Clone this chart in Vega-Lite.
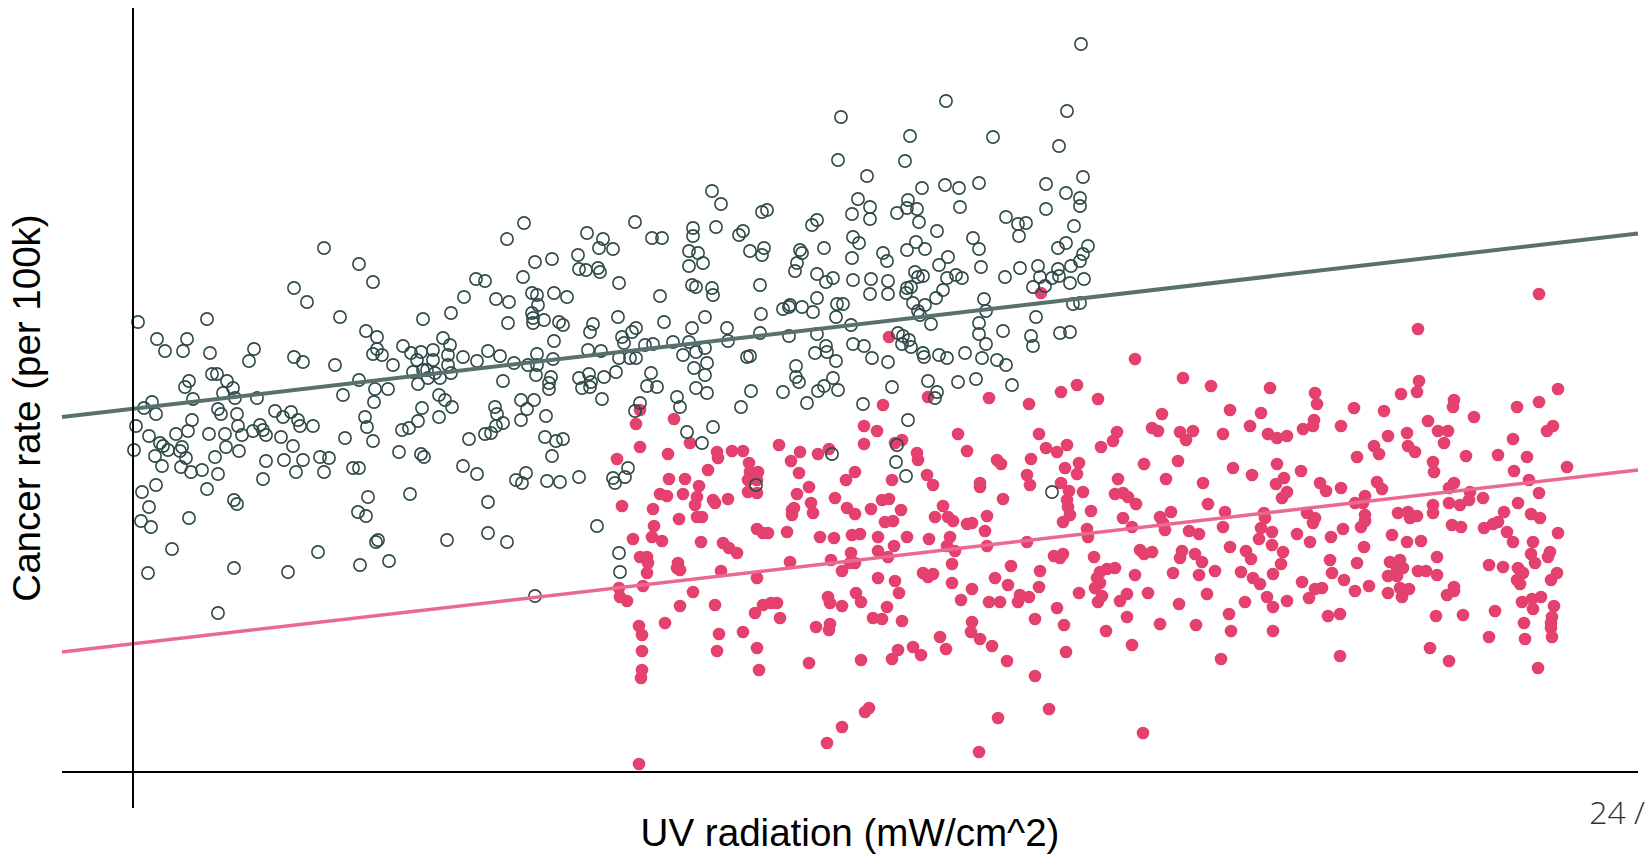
{
  "$schema": "https://vega.github.io/schema/vega-lite/v6.json",
  "width": 1576,
  "height": 800,
  "autosize": {"type": "none"},
  "padding": {"left": 62, "top": 8, "right": 10, "bottom": 47},
  "background": "white",
  "config": {
    "view": {"stroke": null},
    "font": "Liberation Sans"
  },
  "datasets": {
    "low": [
      {"uv":19.1,"rate":52.4},{"uv":22.6,"rate":50.8},{"uv":24.0,"rate":49.0},{"uv":16.1,"rate":48.4},{"uv":17.4,"rate":47.0},{"uv":20.7,"rate":45.5},{"uv":0.5,"rate":45.0},{"uv":7.4,"rate":45.3},{"uv":29.0,"rate":45.3},{"uv":2.4,"rate":43.3},{"uv":5.4,"rate":43.3},{"uv":3.2,"rate":42.1},{"uv":5.0,"rate":42.1},{"uv":7.7,"rate":41.9},{"uv":12.1,"rate":42.3},{"uv":11.6,"rate":41.1},{"uv":16.1,"rate":41.5},{"uv":17.0,"rate":41.0},{"uv":20.2,"rate":40.7},{"uv":23.3,"rate":44.1},{"uv":24.4,"rate":43.5},{"uv":24.4,"rate":42.3},{"uv":24.0,"rate":41.8},{"uv":24.9,"rate":41.7},{"uv":26.0,"rate":40.7},{"uv":27.0,"rate":42.6},{"uv":27.8,"rate":41.9},{"uv":28.8,"rate":42.0},{"uv":28.4,"rate":41.2},{"uv":7.9,"rate":39.8},{"uv":8.4,"rate":39.8},{"uv":5.6,"rate":39.1},{"uv":5.2,"rate":38.5},{"uv":9.4,"rate":39.1},{"uv":10.0,"rate":38.4},{"uv":9.0,"rate":37.9},{"uv":10.2,"rate":37.4},{"uv":6.0,"rate":37.3},{"uv":12.4,"rate":37.4},{"uv":22.6,"rate":39.2},{"uv":24.2,"rate":38.3},{"uv":25.5,"rate":38.3},{"uv":21.0,"rate":37.7},{"uv":24.1,"rate":37.0},{"uv":28.0,"rate":40.0},{"uv":29.0,"rate":40.2},{"uv":28.5,"rate":38.8},{"uv":1.1,"rate":36.4},{"uv":1.9,"rate":37.0},{"uv":2.3,"rate":35.8},{"uv":8.5,"rate":36.3},{"uv":8.8,"rate":35.8},{"uv":10.4,"rate":35.8},{"uv":14.2,"rate":36.1},{"uv":15.0,"rate":35.5},{"uv":15.8,"rate":36.0},{"uv":16.5,"rate":35.2},{"uv":16.7,"rate":34.6},{"uv":18.0,"rate":34.6},{"uv":5.9,"rate":35.2},{"uv":5.5,"rate":34.1},{"uv":4.3,"rate":33.8},{"uv":1.6,"rate":33.6},{"uv":0.3,"rate":34.6},{"uv":7.6,"rate":33.8},{"uv":9.2,"rate":33.8},{"uv":10.5,"rate":34.6},{"uv":10.9,"rate":33.7},{"uv":12.7,"rate":34.7},{"uv":12.0,"rate":34.1},{"uv":13.0,"rate":34.2},{"uv":13.3,"rate":33.7},{"uv":14.8,"rate":33.5},{"uv":16.0,"rate":32.6},{"uv":9.3,"rate":32.5},{"uv":10.6,"rate":32.1},{"uv":8.2,"rate":31.5},{"uv":3.0,"rate":32.6},{"uv":3.5,"rate":32.2},{"uv":2.7,"rate":32.9},{"uv":4.9,"rate":32.5},{"uv":4.7,"rate":32.1},{"uv":2.2,"rate":31.6},{"uv":5.3,"rate":31.4},{"uv":2.9,"rate":30.6},{"uv":4.8,"rate":30.5},{"uv":5.8,"rate":30.0},{"uv":6.9,"rate":30.2},{"uv":8.5,"rate":29.8},{"uv":0.1,"rate":32.2},{"uv":13.3,"rate":31.1},{"uv":15.1,"rate":31.2},{"uv":17.0,"rate":31.2},{"uv":16.3,"rate":30.0},{"uv":18.7,"rate":31.5},{"uv":19.6,"rate":31.4},{"uv":19.1,"rate":30.0},{"uv":13.0,"rate":29.3},{"uv":21.2,"rate":33.4},{"uv":23.2,"rate":35.5},{"uv":23.4,"rate":34.5},{"uv":24.0,"rate":33.1},{"uv":26.6,"rate":32.0},{"uv":26.9,"rate":34.2},{"uv":27.6,"rate":34.4},{"uv":28.5,"rate":35.1},{"uv":28.9,"rate":36.4},{"uv":28.8,"rate":31.8},{"uv":29.1,"rate":31.5},{"uv":22.0,"rate":30.4},{"uv":22.6,"rate":30.4},{"uv":2.3,"rate":28.7},{"uv":0.9,"rate":28.0},{"uv":7.4,"rate":28.3},{"uv":10.1,"rate":27.2},{"uv":10.4,"rate":26.8},{"uv":1.6,"rate":26.5},{"uv":0.8,"rate":25.1},{"uv":1.8,"rate":24.5},{"uv":5.6,"rate":25.4},{"uv":23.5,"rate":27.5},{"uv":27.7,"rate":27.8},{"uv":22.5,"rate":26.0},{"uv":23.3,"rate":25.6},{"uv":24.5,"rate":23.2},{"uv":24.3,"rate":23.0},{"uv":3.9,"rate":22.3},{"uv":18.5,"rate":22.0},{"uv":1.5,"rate":19.9},{"uv":10.1,"rate":20.4},{"uv":15.5,"rate":20.0},{"uv":22.7,"rate":20.7},{"uv":25.6,"rate":21.1},{"uv":8.5,"rate":15.9},
      {"uv":56.0,"rate":54.4},{"uv":39.1,"rate":54.9},{"uv":37.4,"rate":53.3},{"uv":45.4,"rate":53.9},{"uv":47.0,"rate":53.3},{"uv":46.6,"rate":52.4},{"uv":48.0,"rate":52.3},{"uv":50.2,"rate":55.0},{"uv":51.9,"rate":53.4},{"uv":52.9,"rate":53.4},{"uv":56.0,"rate":53.6},{"uv":55.6,"rate":52.1},{"uv":56.5,"rate":51.9},{"uv":55.6,"rate":50.6},{"uv":55.9,"rate":48.7},{"uv":56.3,"rate":48.5},{"uv":44.5,"rate":51.7},{"uv":44.6,"rate":50.3},{"uv":45.3,"rate":50.2},{"uv":46.5,"rate":50.4},{"uv":46.7,"rate":50.0},{"uv":48.6,"rate":48.9},{"uv":52.7,"rate":47.6},{"uv":41.9,"rate":51.3},{"uv":40.2,"rate":51.0},{"uv":39.0,"rate":49.5},{"uv":34.3,"rate":49.3},{"uv":35.2,"rate":49.1},{"uv":33.1,"rate":47.5},{"uv":36.3,"rate":47.3},{"uv":37.6,"rate":47.0},{"uv":39.9,"rate":47.9},{"uv":40.4,"rate":47.7},{"uv":42.1,"rate":47.9},{"uv":43.4,"rate":47.5},{"uv":40.5,"rate":46.7},{"uv":31.8,"rate":45.9},{"uv":37.5,"rate":44.9},{"uv":39.9,"rate":45.9},{"uv":40.0,"rate":45.4},{"uv":40.0,"rate":44.9},{"uv":41.1,"rate":45.2},{"uv":42.6,"rate":45.0},{"uv":43.0,"rate":44.7},{"uv":46.0,"rate":44.8},{"uv":45.7,"rate":44.0},{"uv":48.5,"rate":45.5},{"uv":50.3,"rate":44.4},{"uv":49.9,"rate":44.0},{"uv":48.9,"rate":43.5},{"uv":49.1,"rate":42.9},{"uv":53.1,"rate":45.0},{"uv":55.9,"rate":44.4},{"uv":42.1,"rate":43.1},{"uv":31.0,"rate":43.4},{"uv":31.7,"rate":42.7},{"uv":30.0,"rate":42.2},{"uv":33.0,"rate":41.5},{"uv":31.5,"rate":41.7},{"uv":30.0,"rate":41.2},{"uv":31.5,"rate":40.7},{"uv":31.8,"rate":39.9},{"uv":29.4,"rate":40.2},{"uv":30.2,"rate":39.9},{"uv":30.7,"rate":39.4},{"uv":29.5,"rate":39.4},{"uv":34.4,"rate":41.1},{"uv":35.5,"rate":42.1},{"uv":36.7,"rate":41.6},{"uv":38.1,"rate":40.9},{"uv":39.5,"rate":40.7},{"uv":40.4,"rate":41.8},{"uv":40.4,"rate":40.7},{"uv":42.0,"rate":41.3},{"uv":40.3,"rate":39.7},{"uv":41.8,"rate":39.5},{"uv":41.6,"rate":38.9},{"uv":41.6,"rate":38.3},{"uv":37.0,"rate":39.1},{"uv":45.5,"rate":42.2},{"uv":46.8,"rate":42.1},{"uv":48.6,"rate":41.4},{"uv":49.7,"rate":41.4},{"uv":50.3,"rate":41.4},{"uv":51.2,"rate":42.7},{"uv":52.0,"rate":42.8},{"uv":54.0,"rate":43.0},{"uv":55.6,"rate":43.0},{"uv":55.0,"rate":41.7},{"uv":56.3,"rate":42.0},{"uv":56.1,"rate":40.4},{"uv":56.3,"rate":38.4},{"uv":44.6,"rate":39.4},{"uv":45.6,"rate":39.8},{"uv":45.8,"rate":39.0},{"uv":44.9,"rate":38.4},{"uv":45.7,"rate":38.5},{"uv":47.1,"rate":39.5},{"uv":48.3,"rate":40.0},{"uv":46.9,"rate":37.3},{"uv":51.8,"rate":39.9},{"uv":51.4,"rate":38.6},{"uv":52.4,"rate":38.5},{"uv":54.4,"rate":37.5},{"uv":30.6,"rate":37.7},{"uv":31.2,"rate":37.2},{"uv":31.9,"rate":36.5},{"uv":30.6,"rate":35.5},{"uv":36.2,"rate":36.5},{"uv":36.4,"rate":35.8},{"uv":37.0,"rate":34.9},{"uv":36.3,"rate":34.6},{"uv":35.8,"rate":33.9},{"uv":35.2,"rate":33.8},{"uv":33.6,"rate":33.3},{"uv":38.8,"rate":37.2},{"uv":40.1,"rate":37.2},{"uv":39.4,"rate":36.3},{"uv":38.8,"rate":35.2},{"uv":41.3,"rate":35.6},{"uv":41.2,"rate":33.5},{"uv":42.3,"rate":33.1},{"uv":43.0,"rate":33.3},{"uv":41.9,"rate":31.6},{"uv":33.0,"rate":30.6},{"uv":34.4,"rate":29.8},{"uv":38.3,"rate":29.2},{"uv":39.3,"rate":29.9},{"uv":38.9,"rate":28.9},{"uv":41.4,"rate":29.1},{"uv":42.7,"rate":29.0},{"uv":44.6,"rate":29.5},{"uv":35.5,"rate":27.0},{"uv":31.4,"rate":23.2},{"uv":35.5,"rate":23.9},{"uv":37.4,"rate":23.0},{"uv":46.4,"rate":24.6},{"uv":40.2,"rate":17.6},
      {"uv":94.8,"rate":72.8},{"uv":81.3,"rate":67.1},{"uv":93.4,"rate":66.1},{"uv":70.8,"rate":65.5},{"uv":77.7,"rate":63.6},{"uv":86.0,"rate":63.5},{"uv":92.6,"rate":62.6},{"uv":70.5,"rate":61.2},{"uv":77.2,"rate":61.1},{"uv":73.4,"rate":59.6},{"uv":95.0,"rate":59.5},{"uv":57.9,"rate":58.1},{"uv":58.8,"rate":56.8},{"uv":78.9,"rate":58.4},{"uv":81.2,"rate":58.7},{"uv":82.6,"rate":58.4},{"uv":84.6,"rate":58.9},{"uv":91.3,"rate":58.8},{"uv":93.3,"rate":57.9},{"uv":94.7,"rate":57.4},{"uv":94.7,"rate":56.6},{"uv":72.5,"rate":57.3},{"uv":73.7,"rate":56.5},{"uv":73.7,"rate":55.3},{"uv":71.9,"rate":55.8},{"uv":77.5,"rate":57.2},{"uv":77.4,"rate":56.4},{"uv":78.4,"rate":56.3},{"uv":76.4,"rate":55.9},{"uv":78.6,"rate":55.0},{"uv":82.7,"rate":56.5},{"uv":91.3,"rate":56.3},{"uv":62.9,"rate":56.0},{"uv":63.4,"rate":56.2},{"uv":58.3,"rate":54.5},{"uv":67.9,"rate":54.7},{"uv":68.4,"rate":55.2},{"uv":60.6,"rate":53.7},{"uv":61.0,"rate":54.1},{"uv":80.4,"rate":54.1},{"uv":87.3,"rate":55.5},{"uv":88.5,"rate":54.8},{"uv":89.3,"rate":54.9},{"uv":88.6,"rate":53.6},{"uv":94.1,"rate":54.6},{"uv":84.0,"rate":53.4},{"uv":84.6,"rate":52.3},{"uv":72.0,"rate":53.5},{"uv":72.6,"rate":52.9},{"uv":78.3,"rate":53.0},{"uv":77.4,"rate":52.2},{"uv":79.2,"rate":52.3},{"uv":61.7,"rate":52.1},{"uv":63.1,"rate":52.4},{"uv":62.9,"rate":51.7},{"uv":66.7,"rate":52.2},{"uv":66.9,"rate":51.9},{"uv":69.1,"rate":52.4},{"uv":57.0,"rate":50.9},{"uv":75.0,"rate":51.9},{"uv":75.4,"rate":51.1},{"uv":71.9,"rate":51.4},{"uv":66.4,"rate":50.9},{"uv":66.2,"rate":50.1},{"uv":92.5,"rate":52.4},{"uv":93.3,"rate":52.9},{"uv":95.5,"rate":52.6},{"uv":95.0,"rate":51.8},{"uv":94.7,"rate":51.1},{"uv":81.5,"rate":51.5},{"uv":80.6,"rate":50.7},{"uv":84.8,"rate":50.5},{"uv":88.7,"rate":50.4},{"uv":90.5,"rate":50.6},{"uv":92.5,"rate":50.3},{"uv":93.8,"rate":50.6},{"uv":90.7,"rate":49.5},{"uv":91.9,"rate":49.4},{"uv":93.7,"rate":48.9},{"uv":95.1,"rate":49.3},{"uv":92.6,"rate":49.6},{"uv":91.2,"rate":48.6},{"uv":90.0,"rate":48.5},{"uv":87.2,"rate":49.5},{"uv":57.9,"rate":48.4},{"uv":58.0,"rate":47.7},{"uv":57.2,"rate":45.5},{"uv":57.2,"rate":42.4},{"uv":57.4,"rate":40.9},{"uv":57.2,"rate":39.7},{"uv":57.4,"rate":37.9},{"uv":62.7,"rate":48.7},{"uv":68.4,"rate":49.8},{"uv":69.3,"rate":49.0},{"uv":70.0,"rate":49.4},{"uv":72.0,"rate":49.2},{"uv":73.8,"rate":49.3},{"uv":75.5,"rate":49.1},{"uv":73.7,"rate":47.8},{"uv":75.5,"rate":47.8},{"uv":78.2,"rate":50.0},{"uv":79.0,"rate":49.6},{"uv":78.5,"rate":49.5},{"uv":81.4,"rate":49.4},{"uv":82.3,"rate":49.7},{"uv":82.9,"rate":49.4},{"uv":77.4,"rate":48.4},{"uv":77.8,"rate":48.5},{"uv":77.3,"rate":47.9},{"uv":81.0,"rate":48.2},{"uv":78.0,"rate":46.9},{"uv":80.3,"rate":47.4},{"uv":79.2,"rate":46.7},{"uv":78.5,"rate":46.1},{"uv":78.7,"rate":45.7},{"uv":79.8,"rate":44.8},{"uv":85.1,"rate":47.3},{"uv":85.3,"rate":46.1},{"uv":84.6,"rate":44.9},{"uv":84.6,"rate":43.8},{"uv":85.3,"rate":42.8},{"uv":65.6,"rate":46.5},{"uv":65.0,"rate":46.3},{"uv":65.7,"rate":46.7},{"uv":66.9,"rate":46.5},{"uv":68.4,"rate":47.4},{"uv":68.0,"rate":46.0},{"uv":70.4,"rate":46.8},{"uv":71.0,"rate":46.8},{"uv":70.3,"rate":45.5},{"uv":71.8,"rate":44.7},{"uv":62.8,"rate":45.8},{"uv":62.7,"rate":43.9},{"uv":59.4,"rate":44.4},{"uv":59.5,"rate":43.1},{"uv":65.6,"rate":43.6},{"uv":68.4,"rate":43.8},{"uv":61.4,"rate":41.5},{"uv":61.7,"rate":41.6},{"uv":68.2,"rate":41.9},{"uv":69.3,"rate":42.6},{"uv":69.4,"rate":42.0},{"uv":70.3,"rate":41.1},{"uv":72.0,"rate":42.8},{"uv":73.1,"rate":42.6},{"uv":73.9,"rate":41.4},{"uv":75.5,"rate":41.0},{"uv":76.5,"rate":43.9},{"uv":77.0,"rate":43.6},{"uv":77.6,"rate":43.2},{"uv":76.9,"rate":42.8},{"uv":77.8,"rate":42.5},{"uv":79.0,"rate":41.9},{"uv":79.1,"rate":41.5},{"uv":80.6,"rate":41.7},{"uv":81.4,"rate":41.4},{"uv":83.2,"rate":41.9},{"uv":84.9,"rate":41.4},{"uv":86.4,"rate":41.2},{"uv":66.3,"rate":40.6},{"uv":66.3,"rate":39.5},{"uv":66.6,"rate":39.0},{"uv":61.8,"rate":38.1},{"uv":65.0,"rate":38.0},{"uv":68.5,"rate":38.1},{"uv":69.1,"rate":38.6},{"uv":70.0,"rate":39.4},{"uv":70.5,"rate":38.2},{"uv":75.9,"rate":38.5},{"uv":79.5,"rate":39.1},{"uv":80.4,"rate":38.0},{"uv":82.5,"rate":39.0},{"uv":84.3,"rate":39.3},{"uv":80.2,"rate":37.4},
      {"uv":50.7,"rate":36.9},{"uv":50.2,"rate":36.1},{"uv":54.7,"rate":36.5},{"uv":60.8,"rate":36.5},{"uv":67.4,"rate":36.9},{"uv":73.0,"rate":36.8},{"uv":55.4,"rate":34.0},{"uv":58.0,"rate":34.5},{"uv":56.9,"rate":32.9},{"uv":77.5,"rate":35.2},{"uv":69.9,"rate":31.8},{"uv":76.4,"rate":32.7},{"uv":76.3,"rate":31.0},{"uv":77.3,"rate":29.6},{"uv":49.5,"rate":30.4},{"uv":48.0,"rate":29.4},{"uv":48.2,"rate":28.9},{"uv":49.2,"rate":29.5},{"uv":48.6,"rate":21.9},{"uv":48.7,"rate":20.0},{"uv":62.3,"rate":28.7},
      {"uv":90.3,"rate":45.5},{"uv":89.8,"rate":43.6},{"uv":90.0,"rate":42.6},{"uv":92.7,"rate":43.9},{"uv":93.7,"rate":44.0},{"uv":94.0,"rate":46.8},{"uv":94.7,"rate":46.9},{"uv":87.9,"rate":38.7},{"uv":91.9,"rate":28.0},{"uv":87.0,"rate":44.1},{"uv":87.3,"rate":40.7}
    ],
    "high": [
      {"uv":75.6,"rate":43.5},{"uv":79.5,"rate":37.5},{"uv":85.6,"rate":37.4},{"uv":90.8,"rate":47.9},
      {"uv":75.0,"rate":36.7},{"uv":50.7,"rate":36.2},{"uv":50.3,"rate":34.8},{"uv":54.1,"rate":35.3},{"uv":50.7,"rate":32.5},{"uv":73.1,"rate":34.6},{"uv":74.4,"rate":34.1},{"uv":73.1,"rate":32.8},{"uv":82.5,"rate":33.8},{"uv":83.4,"rate":32.1},{"uv":76.2,"rate":32.9},{"uv":76.9,"rate":33.2},{"uv":55.7,"rate":32.9},{"uv":48.4,"rate":31.3},{"uv":53.5,"rate":31.8},{"uv":58.4,"rate":32.0},{"uv":58.5,"rate":31.4},{"uv":59.9,"rate":32.1},{"uv":61.0,"rate":32.1},{"uv":64.6,"rate":32.7},{"uv":66.7,"rate":32.0},{"uv":65.8,"rate":31.1},{"uv":68.5,"rate":31.8},{"uv":69.6,"rate":32.3},{"uv":61.6,"rate":30.9},{"uv":61.7,"rate":30.0},{"uv":62.5,"rate":30.0},{"uv":61.5,"rate":29.2},{"uv":62.4,"rate":29.2},{"uv":61.5,"rate":28.0},{"uv":62.4,"rate":27.9},{"uv":57.5,"rate":30.2},{"uv":53.6,"rate":29.3},{"uv":55.2,"rate":29.3},{"uv":56.6,"rate":28.6},{"uv":55.0,"rate":27.8},{"uv":56.4,"rate":27.5},{"uv":56.2,"rate":26.7},{"uv":56.4,"rate":25.5},{"uv":56.9,"rate":25.5},{"uv":52.7,"rate":27.8},{"uv":53.4,"rate":27.6},{"uv":54.6,"rate":25.3},{"uv":52.0,"rate":26.3},{"uv":52.1,"rate":24.6},{"uv":51.9,"rate":23.5},{"uv":52.9,"rate":23.1},{"uv":50.0,"rate":23.3},{"uv":48.9,"rate":26.6},{"uv":58.0,"rate":27.2},{"uv":58.2,"rate":26.9},{"uv":59.5,"rate":27.3},{"uv":66.6,"rate":29.9},{"uv":67.6,"rate":28.5},{"uv":66.4,"rate":27.8},{"uv":65.9,"rate":26.2},{"uv":66.1,"rate":26.4},{"uv":65.9,"rate":25.7},{"uv":67.8,"rate":26.9},{"uv":68.0,"rate":25.9},{"uv":70.2,"rate":27.4},{"uv":71.3,"rate":29.2},{"uv":72.2,"rate":30.0},{"uv":71.4,"rate":26.4},{"uv":72.2,"rate":25.8},{"uv":73.8,"rate":26.3},{"uv":74.9,"rate":27.2},{"uv":75.6,"rate":27.3},{"uv":75.9,"rate":29.2},{"uv":76.8,"rate":26.2},{"uv":75.2,"rate":25.0},{"uv":76.0,"rate":25.1},{"uv":78.4,"rate":31.9},{"uv":78.5,"rate":31.2},{"uv":79.4,"rate":29.7},{"uv":80.0,"rate":28.7},{"uv":84.7,"rate":28.9},{"uv":84.7,"rate":28.5},{"uv":86.4,"rate":31.2},{"uv":86.8,"rate":30.8},{"uv":87.0,"rate":27.3},{"uv":81.0,"rate":26.6},{"uv":80.2,"rate":25.5},{"uv":81.5,"rate":25.5},{"uv":82.0,"rate":25.1},{"uv":83.4,"rate":24.8},{"uv":83.9,"rate":24.9},{"uv":85.4,"rate":25.6},{"uv":85.2,"rate":24.1},{"uv":85.4,"rate":22.6},{"uv":81.7,"rate":23.5},{"uv":81.4,"rate":22.6},{"uv":82.2,"rate":22.1},{"uv":81.9,"rate":20.8},{"uv":79.6,"rate":23.3},{"uv":77.4,"rate":23.5},{"uv":74.5,"rate":23.5},{"uv":76.1,"rate":22.6},{"uv":74.5,"rate":22.1},{"uv":75.5,"rate":21.5},{"uv":71.9,"rate":23.7},{"uv":72.7,"rate":23.8},{"uv":71.8,"rate":21.9},{"uv":71.7,"rate":20.9},{"uv":72.2,"rate":20.9},{"uv":70.1,"rate":23.4},{"uv":68.7,"rate":23.5},{"uv":69.8,"rate":21.2},{"uv":70.9,"rate":20.1},{"uv":65.7,"rate":21.0},{"uv":62.4,"rate":24.3},{"uv":63.0,"rate":23.9},{"uv":63.5,"rate":23.9},{"uv":65.4,"rate":24.0},{"uv":59.0,"rate":22.9},{"uv":59.6,"rate":22.4},{"uv":60.4,"rate":21.9},{"uv":56.8,"rate":23.0},{"uv":54.5,"rate":20.9},{"uv":54.7,"rate":20.2},{"uv":54.4,"rate":20.4},{"uv":51.4,"rate":21.5},{"uv":50.7,"rate":21.5},{"uv":51.5,"rate":20.9},{"uv":51.4,"rate":19.9},{"uv":51.0,"rate":18.6},{"uv":58.8,"rate":20.1},{"uv":62.4,"rate":19.4},{"uv":48.6,"rate":18.4},{"uv":48.7,"rate":17.5},{"uv":49.4,"rate":17.1},{"uv":56.0,"rate":18.0},{"uv":54.7,"rate":16.6},{"uv":58.2,"rate":16.7},{"uv":62.2,"rate":15.9},{"uv":63.0,"rate":16.7},{"uv":63.8,"rate":16.9},{"uv":64.4,"rate":16.9},{"uv":64.7,"rate":15.4},{"uv":69.5,"rate":17.5},{"uv":69.7,"rate":16.9},{"uv":70.9,"rate":16.6},{"uv":72.3,"rate":17.9},{"uv":72.8,"rate":17.0},{"uv":74.5,"rate":19.4},{"uv":76.2,"rate":19.1},{"uv":76.6,"rate":17.9},{"uv":75.4,"rate":16.5},{"uv":74.0,"rate":15.4},{"uv":74.9,"rate":15.3},{"uv":76.9,"rate":15.1},{"uv":68.3,"rate":14.5},{"uv":69.7,"rate":14.8},{"uv":69.6,"rate":14.2},{"uv":82.8,"rate":17.2},{"uv":83.9,"rate":18.3},{"uv":81.9,"rate":18.9},{"uv":79.0,"rate":19.9},{"uv":80.0,"rate":19.8},{"uv":79.5,"rate":19.5},{"uv":85.6,"rate":17.0},{"uv":86.7,"rate":17.0},{"uv":87.5,"rate":18.7},{"uv":86.2,"rate":19.4},{"uv":83.9,"rate":15.0},{"uv":83.8,"rate":14.0},{"uv":84.7,"rate":13.3},{"uv":85.9,"rate":12.6},{"uv":80.7,"rate":13.5},{"uv":81.3,"rate":12.3},{"uv":78.0,"rate":12.5},{"uv":78.8,"rate":11.7},{"uv":76.5,"rate":12.2},{"uv":75.9,"rate":11.3},{"uv":72.8,"rate":11.2},{"uv":67.6,"rate":10.9},{"uv":87.4,"rate":11.1},{"uv":61.0,"rate":14.0},{"uv":58.6,"rate":13.8},{"uv":58.4,"rate":12.1},{"uv":62.4,"rate":12.4},{"uv":62.6,"rate":10.2},{"uv":53.2,"rate":14.9},{"uv":50.6,"rate":14.6},{"uv":50.9,"rate":13.7},{"uv":50.9,"rate":12.1},{"uv":50.9,"rate":10.2},{"uv":50.8,"rate":9.4},{"uv":73.2,"rate":6.0},{"uv":73.6,"rate":6.4},{"uv":70.9,"rate":4.5},{"uv":69.4,"rate":2.9},{"uv":86.5,"rate":5.4},{"uv":84.6,"rate":2.0},{"uv":50.6,"rate":0.8},
      {"uv":100.2,"rate":41.3},{"uv":105.0,"rate":39.4},{"uv":107.8,"rate":38.6},{"uv":113.7,"rate":38.4},{"uv":94.4,"rate":38.7},{"uv":92.8,"rate":38.0},{"uv":96.5,"rate":37.3},{"uv":89.6,"rate":36.8},{"uv":102.9,"rate":35.8},{"uv":109.7,"rate":36.2},{"uv":112.8,"rate":35.9},{"uv":111.7,"rate":34.6},{"uv":109.0,"rate":33.8},{"uv":113.5,"rate":33.8},{"uv":114.4,"rate":33.4},{"uv":115.4,"rate":33.6},{"uv":117.0,"rate":34.3},{"uv":90.6,"rate":33.8},{"uv":98.4,"rate":34.0},{"uv":98.0,"rate":33.1},{"uv":101.9,"rate":34.4},{"uv":102.5,"rate":34.1},{"uv":104.7,"rate":34.0},{"uv":106.0,"rate":34.1},{"uv":105.3,"rate":33.2},{"uv":91.3,"rate":32.4},{"uv":92.4,"rate":32.0},{"uv":93.4,"rate":32.7},{"uv":96.8,"rate":32.5},{"uv":89.8,"rate":31.3},{"uv":89.4,"rate":29.7},{"uv":89.7,"rate":28.7},{"uv":93.2,"rate":30.4},{"uv":94.6,"rate":30.9},{"uv":94.4,"rate":29.8},{"uv":92.8,"rate":28.9},{"uv":93.6,"rate":28.1},{"uv":95.0,"rate":28.0},{"uv":93.4,"rate":27.2},{"uv":93.5,"rate":26.5},{"uv":93.7,"rate":25.7},{"uv":93.0,"rate":25.0},{"uv":101.1,"rate":30.8},{"uv":104.5,"rate":31.1},{"uv":98.5,"rate":29.3},{"uv":103.3,"rate":29.3},{"uv":107.0,"rate":28.9},{"uv":110.0,"rate":30.4},{"uv":111.9,"rate":29.7},{"uv":114.4,"rate":30.8},{"uv":115.1,"rate":29.4},{"uv":114.3,"rate":28.8},{"uv":115.4,"rate":28.0},{"uv":114.9,"rate":27.4},{"uv":116.8,"rate":30.1},{"uv":98.2,"rate":27.8},{"uv":99.0,"rate":27.9},{"uv":99.5,"rate":27.5},{"uv":100.3,"rate":26.8},{"uv":107.5,"rate":26.8},{"uv":95.8,"rate":26.1},{"uv":99.0,"rate":25.4},{"uv":99.9,"rate":24.5},{"uv":95.4,"rate":24.3},{"uv":95.5,"rate":23.5},{"uv":102.7,"rate":25.5},{"uv":103.8,"rate":26.0},{"uv":103.0,"rate":24.9},{"uv":103.2,"rate":24.2},{"uv":105.6,"rate":24.1},{"uv":106.6,"rate":23.8},{"uv":109.2,"rate":26.0},{"uv":109.0,"rate":24.5},{"uv":113.1,"rate":25.9},{"uv":113.2,"rate":25.4},{"uv":112.8,"rate":24.4},{"uv":113.9,"rate":24.0},{"uv":112.6,"rate":23.3},{"uv":117.4,"rate":25.9},{"uv":116.4,"rate":23.8},{"uv":89.4,"rate":23.0},{"uv":92.1,"rate":21.6},{"uv":93.0,"rate":21.8},{"uv":92.7,"rate":21.4},{"uv":96.1,"rate":21.5},{"uv":100.7,"rate":22.2},{"uv":101.1,"rate":21.8},{"uv":101.9,"rate":22.0},{"uv":104.9,"rate":22.1},{"uv":104.7,"rate":21.4},{"uv":106.2,"rate":21.8},{"uv":106.9,"rate":21.0},{"uv":109.7,"rate":22.5},{"uv":111.3,"rate":22.1},{"uv":111.8,"rate":21.3},{"uv":113.9,"rate":22.7},{"uv":115.0,"rate":22.0},{"uv":114.8,"rate":20.8},{"uv":87.8,"rate":20.6},{"uv":90.7,"rate":20.1},{"uv":90.6,"rate":18.5},{"uv":88.7,"rate":17.7},{"uv":89.6,"rate":17.5},{"uv":88.5,"rate":17.0},{"uv":96.7,"rate":20.0},{"uv":97.4,"rate":20.3},{"uv":98.2,"rate":20.4},{"uv":96.4,"rate":19.4},{"uv":96.7,"rate":18.9},{"uv":96.2,"rate":18.4},{"uv":96.9,"rate":17.6},{"uv":96.5,"rate":17.0},{"uv":94.6,"rate":17.9},{"uv":100.2,"rate":19.7},{"uv":101.5,"rate":17.9},{"uv":99.4,"rate":17.8},{"uv":98.7,"rate":17.1},{"uv":104.0,"rate":19.9},{"uv":106.6,"rate":19.7},{"uv":108.2,"rate":20.1},{"uv":107.4,"rate":17.8},{"uv":104.6,"rate":16.8},{"uv":110.8,"rate":20.0},{"uv":112.0,"rate":19.4},{"uv":112.7,"rate":18.8},{"uv":114.0,"rate":19.8},{"uv":116.9,"rate":19.0},{"uv":111.2,"rate":17.0},{"uv":113.4,"rate":17.5},{"uv":114.0,"rate":16.5},{"uv":115.4,"rate":17.1},{"uv":117.6,"rate":17.4},{"uv":92.4,"rate":16.4},{"uv":90.2,"rate":15.3},{"uv":93.1,"rate":14.7},{"uv":99.4,"rate":15.5},{"uv":102.7,"rate":14.8},{"uv":97.3,"rate":14.1},{"uv":106.3,"rate":14.7},{"uv":109.6,"rate":15.8},{"uv":109.8,"rate":14.1},{"uv":114.0,"rate":14.1},{"uv":99.9,"rate":12.7},{"uv":93.3,"rate":12.0},{"uv":90.2,"rate":9.6},{"uv":108.8,"rate":11.3},{"uv":91.6,"rate":6.3},{"uv":101.0,"rate":3.9},
      {"uv":140.6,"rate":47.8},{"uv":128.5,"rate":44.3},{"uv":128.6,"rate":39.1},{"uv":128.4,"rate":38.0},{"uv":126.8,"rate":37.8},{"uv":118.2,"rate":37.9},{"uv":118.4,"rate":36.8},{"uv":122.1,"rate":36.4},{"uv":125.1,"rate":36.1},{"uv":132.1,"rate":37.2},{"uv":132.0,"rate":36.5},{"uv":134.1,"rate":35.5},{"uv":138.4,"rate":36.5},{"uv":140.6,"rate":37.0},{"uv":142.5,"rate":38.3},{"uv":118.1,"rate":35.2},{"uv":118.0,"rate":34.6},{"uv":120.8,"rate":34.6},{"uv":129.5,"rate":35.1},{"uv":130.5,"rate":34.1},{"uv":131.5,"rate":34.1},{"uv":131.1,"rate":32.9},{"uv":125.5,"rate":33.6},{"uv":127.4,"rate":33.9},{"uv":124.1,"rate":32.6},{"uv":124.6,"rate":31.8},{"uv":127.5,"rate":32.6},{"uv":128.2,"rate":32.0},{"uv":122.4,"rate":31.5},{"uv":133.3,"rate":31.6},{"uv":136.5,"rate":31.7},{"uv":138.0,"rate":33.3},{"uv":141.4,"rate":34.1},{"uv":142.0,"rate":34.6},{"uv":139.4,"rate":31.5},{"uv":143.4,"rate":30.5},{"uv":130.0,"rate":31.0},{"uv":130.1,"rate":30.0},{"uv":138.1,"rate":30.1},{"uv":139.6,"rate":29.2},{"uv":140.6,"rate":27.9},{"uv":118.7,"rate":28.9},{"uv":119.3,"rate":28.1},{"uv":120.8,"rate":28.4},{"uv":124.4,"rate":29.0},{"uv":124.9,"rate":28.3},{"uv":122.2,"rate":26.9},{"uv":123.2,"rate":27.6},{"uv":123.0,"rate":26.9},{"uv":131.6,"rate":28.4},{"uv":132.1,"rate":28.9},{"uv":133.7,"rate":28.0},{"uv":133.6,"rate":27.2},{"uv":131.6,"rate":26.9},{"uv":132.7,"rate":26.7},{"uv":135.0,"rate":27.4},{"uv":138.5,"rate":26.9},{"uv":118.2,"rate":25.4},{"uv":118.0,"rate":24.9},{"uv":123.2,"rate":25.7},{"uv":123.2,"rate":25.1},{"uv":122.8,"rate":24.5},{"uv":126.5,"rate":25.9},{"uv":127.5,"rate":26.0},{"uv":127.7,"rate":25.4},{"uv":128.4,"rate":25.6},{"uv":130.0,"rate":26.7},{"uv":130.0,"rate":25.9},{"uv":131.9,"rate":24.7},{"uv":132.8,"rate":24.5},{"uv":137.1,"rate":26.0},{"uv":139.8,"rate":25.8},{"uv":140.7,"rate":25.4},{"uv":135.1,"rate":24.4},{"uv":136.0,"rate":24.8},{"uv":136.5,"rate":25.0},{"uv":137.4,"rate":24.0},{"uv":138.0,"rate":23.0},{"uv":142.5,"rate":23.9},{"uv":140.0,"rate":23.0},{"uv":139.8,"rate":21.8},{"uv":140.2,"rate":20.9},{"uv":141.7,"rate":22.0},{"uv":141.5,"rate":21.5},{"uv":142.4,"rate":19.9},{"uv":141.8,"rate":19.2},{"uv":119.8,"rate":23.5},{"uv":121.0,"rate":24.3},{"uv":117.7,"rate":23.0},{"uv":125.9,"rate":23.7},{"uv":127.4,"rate":23.0},{"uv":128.8,"rate":23.1},{"uv":123.1,"rate":22.5},{"uv":130.4,"rate":21.5},{"uv":125.7,"rate":21.0},{"uv":126.7,"rate":21.2},{"uv":127.0,"rate":20.4},{"uv":126.4,"rate":20.2},{"uv":128.5,"rate":20.1},{"uv":129.3,"rate":20.1},{"uv":130.4,"rate":19.7},{"uv":119.7,"rate":21.2},{"uv":122.4,"rate":20.9},{"uv":119.9,"rate":19.9},{"uv":121.1,"rate":19.2},{"uv":135.6,"rate":20.7},{"uv":137.0,"rate":20.5},{"uv":138.5,"rate":20.4},{"uv":139.0,"rate":19.9},{"uv":138.4,"rate":19.2},{"uv":138.7,"rate":18.8},{"uv":125.5,"rate":19.6},{"uv":126.4,"rate":19.6},{"uv":122.2,"rate":18.1},{"uv":123.6,"rate":18.6},{"uv":125.5,"rate":17.9},{"uv":126.7,"rate":18.4},{"uv":126.9,"rate":17.5},{"uv":127.6,"rate":18.3},{"uv":131.4,"rate":17.7},{"uv":132.1,"rate":18.5},{"uv":132.1,"rate":18.1},{"uv":118.2,"rate":18.3},{"uv":118.9,"rate":18.4},{"uv":138.9,"rate":17.0},{"uv":139.9,"rate":17.3},{"uv":140.8,"rate":17.5},{"uv":140.0,"rate":16.3},{"uv":142.1,"rate":16.6},{"uv":141.9,"rate":15.5},{"uv":141.8,"rate":14.9},{"uv":141.8,"rate":14.4},{"uv":141.9,"rate":13.5},{"uv":136.2,"rate":16.1},{"uv":139.1,"rate":14.9},{"uv":139.2,"rate":13.3},{"uv":135.6,"rate":13.5},{"uv":119.5,"rate":15.6},{"uv":120.7,"rate":15.8},{"uv":130.3,"rate":15.6},{"uv":133.0,"rate":15.7},{"uv":120.7,"rate":11.6},{"uv":129.7,"rate":12.4},{"uv":131.6,"rate":11.1},{"uv":140.5,"rate":10.4}
    ],
    "fits": [
      {"uv":-7.1,"rate":35.5,"group":"low"},{"uv":150.5,"rate":53.85,"group":"low"},
      {"uv":-7.1,"rate":12.0,"group":"high"},{"uv":150.5,"rate":30.2,"group":"high"}
    ],
    "one": [{}]
  },
  "layer": [
    {
      "data": {"name": "high"},
      "mark": {"type": "circle", "size": 160, "opacity": 1, "color": "#E4416F"},
      "encoding": {
        "x": {"field": "uv", "type": "quantitative", "scale": {"domain": [-7.1, 150.5], "nice": false, "zero": false}, "axis": null},
        "y": {"field": "rate", "type": "quantitative", "scale": {"domain": [-3.6, 76.4], "nice": false, "zero": false}, "axis": null}
      }
    },
    {
      "data": {"name": "low"},
      "mark": {"type": "point", "shape": "circle", "filled": false, "size": 150, "opacity": 1, "stroke": "#2E4A47", "strokeWidth": 1.6},
      "encoding": {
        "x": {"field": "uv", "type": "quantitative", "axis": null},
        "y": {"field": "rate", "type": "quantitative", "axis": null}
      }
    },
    {
      "data": {"name": "fits"},
      "transform": [{"filter": "datum.group === 'high'"}],
      "mark": {"type": "line", "stroke": "#EB6990", "strokeWidth": 3.5},
      "encoding": {
        "x": {"field": "uv", "type": "quantitative", "axis": null},
        "y": {"field": "rate", "type": "quantitative", "axis": null}
      }
    },
    {
      "data": {"name": "fits"},
      "transform": [{"filter": "datum.group === 'low'"}],
      "mark": {"type": "line", "stroke": "#58716E", "strokeWidth": 4},
      "encoding": {
        "x": {"field": "uv", "type": "quantitative", "axis": null},
        "y": {"field": "rate", "type": "quantitative", "axis": null}
      }
    },
    {
      "data": {"name": "one"},
      "mark": {"type": "rule", "stroke": "#000000", "strokeWidth": 2},
      "encoding": {"x": {"datum": 0, "type": "quantitative", "axis": null}}
    },
    {
      "data": {"name": "one"},
      "mark": {"type": "rule", "stroke": "#000000", "strokeWidth": 2},
      "encoding": {"y": {"datum": 0, "type": "quantitative", "axis": null}}
    },
    {
      "data": {"name": "one"},
      "mark": {"type": "text", "text": "UV radiation (mW/cm^2)", "font": "Liberation Sans", "fontSize": 38.6, "color": "#000000", "align": "center", "baseline": "alphabetic"},
      "encoding": {
        "x": {"datum": 71.7, "type": "quantitative", "axis": null},
        "y": {"datum": -7.4, "type": "quantitative", "axis": null}
      }
    },
    {
      "data": {"name": "one"},
      "mark": {"type": "text", "text": "Cancer rate (per 100k)", "font": "Liberation Sans", "fontSize": 38.5, "color": "#000000", "align": "center", "baseline": "alphabetic", "angle": 270},
      "encoding": {
        "x": {"datum": -9.3, "type": "quantitative", "axis": null},
        "y": {"datum": 36.4, "type": "quantitative", "axis": null}
      }
    },
    {
      "data": {"name": "one"},
      "mark": {"type": "text", "text": "24 /", "font": "Open Sans", "fontWeight": 300, "fontSize": 32, "color": "#333333", "align": "right", "baseline": "alphabetic", "dx": 7},
      "encoding": {
        "x": {"datum": 150.5, "type": "quantitative", "axis": null},
        "y": {"datum": -5.2, "type": "quantitative", "axis": null}
      }
    }
  ]
}
